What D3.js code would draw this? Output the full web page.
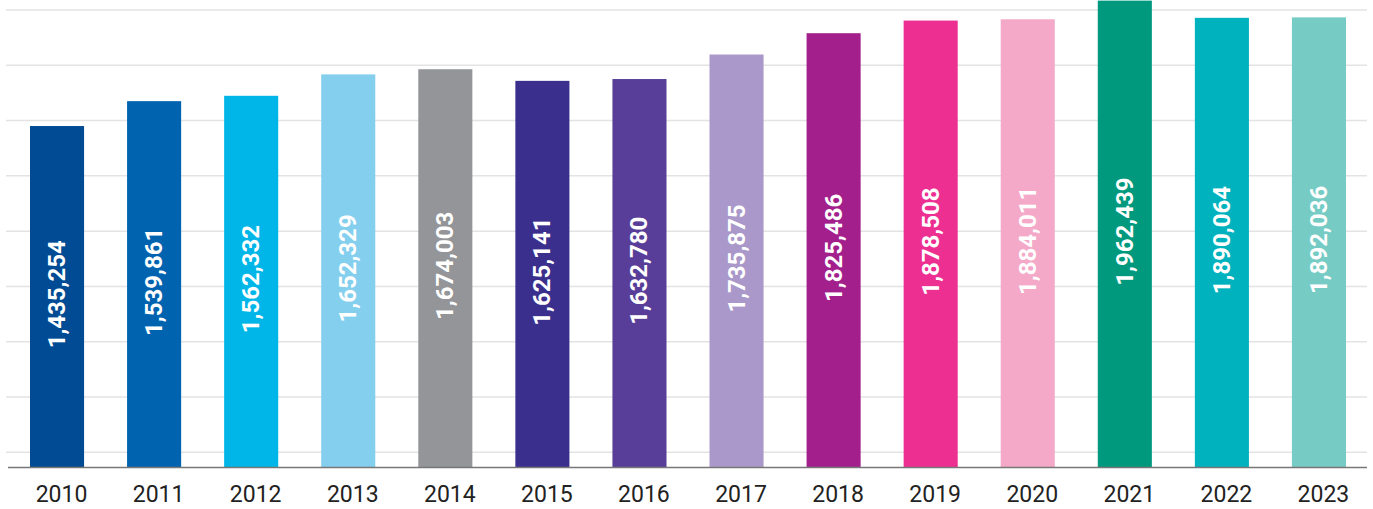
<!DOCTYPE html>
<html>
<head>
<meta charset="utf-8">
<script src="https://cdn.jsdelivr.net/npm/d3@7"></script>
<style>
  html, body { margin: 0; padding: 0; background: #fff; }
  svg { display: block; }
</style>
</head>
<body>
<svg id="chart" width="1373" height="509"></svg>
<script>
const years = ["2010","2011","2012","2013","2014","2015","2016","2017","2018","2019","2020","2021","2022","2023"];
const values = [1435254,1539861,1562332,1652329,1674003,1625141,1632780,1735875,1825486,1878508,1884011,1962439,1890064,1892036];
const colors = ["#004B93","#0063AF","#00B5E8","#85CFEE","#939598","#3B2F8D","#583E98","#A998C9","#A3208C","#EC2F91","#F4A9C9","#00997E","#00B2BD","#76CCC5"];
const gridValues = [63900,296300,528700,761100,993500,1225900,1458300,1690700,1923100];

const svg = d3.select("#chart");
const W = 1373, H = 509;

const x = d3.scaleBand().domain(years).range([30, 1346]).paddingInner(0.443).paddingOuter(0);
const y = d3.scaleLinear().domain([0, 1965000]).range([467.5, 0]);

// gridlines
svg.append("g").selectAll("line").data(gridValues).join("line")
  .attr("x1", 6).attr("x2", 1367)
  .attr("y1", d => y(d)).attr("y2", d => y(d))
  .attr("stroke", "#e3e3e3").attr("stroke-width", 1.5);

// bars
svg.append("g").selectAll("rect").data(years).join("rect")
  .attr("x", d => x(d))
  .attr("width", x.bandwidth())
  .attr("y", (d, i) => y(values[i]))
  .attr("height", (d, i) => y(0) - y(values[i]))
  .attr("fill", (d, i) => colors[i]);

// axis baseline
svg.append("line")
  .attr("x1", 8).attr("x2", 1367)
  .attr("y1", y(0)).attr("y2", y(0))
  .attr("stroke", "#777").attr("stroke-width", 1.5);

// value labels
const fmt = d3.format(",");
svg.append("g").selectAll("text").data(years).join("text")
  .attr("transform", (d, i) => {
    const cx = x(d) + x.bandwidth() / 2;
    const cy = (y(values[i]) + y(0)) / 2 - 2.5;
    return `translate(${cx},${cy}) rotate(-90)`;
  })
  .attr("text-anchor", "middle")
  .attr("dominant-baseline", "central")
  .attr("fill", "#fff")
  .attr("font-family", "Roboto, 'Liberation Sans', sans-serif")
  .attr("font-weight", "bold")
  .attr("font-size", 24)
  .text((d, i) => fmt(values[i]));

// x labels
svg.append("g").selectAll("text").data(years).join("text")
  .attr("x", d => x(d) + x.bandwidth() / 2 + 4.5)
  .attr("y", 501.5)
  .attr("text-anchor", "middle")
  .attr("fill", "#222")
  .attr("font-family", "Roboto, 'Liberation Sans', sans-serif")
  .attr("font-size", 23)
  .text(d => d);
</script>
</body>
</html>
